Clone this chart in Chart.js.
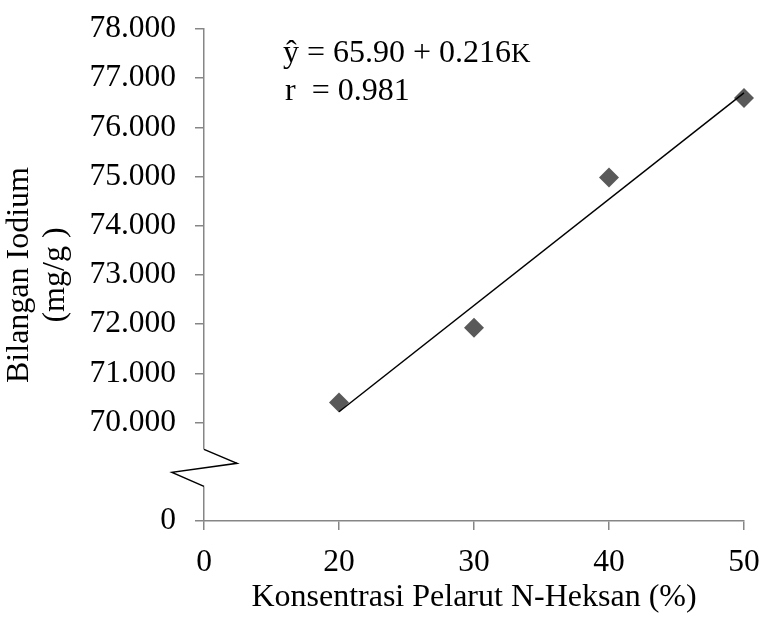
<!DOCTYPE html>
<html>
<head>
<meta charset="utf-8">
<script src="https://cdn.jsdelivr.net/npm/chart.js@4.4.1/dist/chart.umd.min.js"></script>
<style>
  html, body { margin: 0; padding: 0; background: #fff; }
</style>
</head>
<body>
<canvas id="chart" width="762" height="617"></canvas>
<script>
'use strict';

// Values
var xLabels = ['0', '20', '30', '40', '50'];
var iodineValues = [null, 70.41, 71.93, 74.98, 76.60];
var trendValues = [null, 70.22, null, null, 76.70];
var yTickValues = [68, 70, 71, 72, 73, 74, 75, 76, 77, 78];
var breakValue = 68;       // drawn as "0" below the axis break
var breakMidValue = 69.08; // where the zigzag sits
var equationText = ['ŷ = 65.90 + 0.216', 'K', 'r  = 0.981'];

var serif = "'Liberation Serif', 'Times New Roman', serif";
var axisGray = '#868686';

// Draws the axis break zigzag and the regression text
var decorations = {
    id: 'decorations',
    afterDraw: function (chart) {
        var ctx = chart.ctx;
        var x0 = chart.chartArea.left;
        var mid = chart.scales.y.getPixelForValue(breakMidValue);

        ctx.save();
        ctx.fillStyle = '#fff';
        ctx.fillRect(x0 - 2, mid - 18.5, 4, 37);

        ctx.strokeStyle = '#000';
        ctx.lineWidth = 1.5;
        ctx.beginPath();
        ctx.moveTo(x0, mid - 18.5);
        ctx.lineTo(x0 + 33, mid - 4.5);
        ctx.lineTo(x0 - 32, mid + 4.5);
        ctx.lineTo(x0, mid + 18.5);
        ctx.stroke();

        ctx.fillStyle = '#000';
        ctx.textBaseline = 'alphabetic';
        ctx.font = '32px ' + serif;
        ctx.fillText(equationText[0], 283, 62);
        var w = ctx.measureText(equationText[0]).width;
        ctx.font = '27px ' + serif;
        ctx.fillText(equationText[1], 283 + w, 62);
        ctx.font = '32px ' + serif;
        ctx.fillText(equationText[2], 285, 100);
        ctx.restore();
    }
};

var ctx = document.getElementById('chart').getContext('2d');
var chart = new Chart(ctx, {
    type: 'line',
    data: {
        labels: xLabels,
        datasets: [{
            label: 'Trend',
            data: trendValues,
            borderColor: '#000',
            borderWidth: 1.5,
            pointRadius: 0,
            spanGaps: true,
            fill: false,
            order: 0
        }, {
            label: 'Bilangan Iodium',
            data: iodineValues,
            showLine: false,
            pointStyle: 'rectRot',
            pointRadius: 10,
            pointBackgroundColor: '#595959',
            pointBorderColor: '#595959',
            pointBorderWidth: 0,
            order: 1
        }]
    },
    options: {
        responsive: false,
        animation: false,
        layout: { padding: { top: 29, right: 18, bottom: 0, left: 0 } },
        plugins: {
            legend: { display: false },
            tooltip: { enabled: false }
        },
        scales: {
            x: {
                type: 'category',
                offset: false,
                grid: {
                    drawOnChartArea: false,
                    drawTicks: true,
                    tickLength: 9,
                    color: axisGray,
                    lineWidth: 1.5
                },
                border: { color: axisGray, width: 1.5 },
                ticks: {
                    color: '#000',
                    padding: 14,
                    maxRotation: 0,
                    autoSkip: false,
                    font: { family: serif, size: 31.5 }
                },
                title: {
                    display: true,
                    text: 'Konsentrasi Pelarut N-Heksan (%)',
                    color: '#000',
                    padding: { top: 0, bottom: 0 },
                    font: { family: serif, size: 32 }
                },
                afterFit: function (scale) {
                    scale.height = 96;
                    scale.paddingLeft = 0;
                    scale.paddingRight = 0;
                }
            },
            y: {
                min: 68,
                max: 78,
                grid: {
                    drawOnChartArea: false,
                    drawTicks: true,
                    tickLength: 9,
                    color: axisGray,
                    lineWidth: 1.5
                },
                border: { color: axisGray, width: 1.5 },
                afterBuildTicks: function (scale) {
                    scale.ticks = yTickValues.map(function (v) { return { value: v }; });
                },
                ticks: {
                    color: '#000',
                    padding: 19,
                    font: { family: serif, size: 31.5 },
                    callback: function (value) {
                        return value === breakValue ? '0' : value.toFixed(3);
                    }
                },
                title: {
                    display: true,
                    text: ['Bilangan Iodium', '(mg/g )'],
                    color: '#000',
                    padding: { top: 2, bottom: 0 },
                    font: { family: serif, size: 32, lineHeight: 1.12 }
                },
                afterFit: function (scale) {
                    scale.width = 204;
                    scale.paddingTop = 0;
                    scale.paddingBottom = 0;
                }
            }
        }
    },
    plugins: [decorations]
});
</script>
</body>
</html>
